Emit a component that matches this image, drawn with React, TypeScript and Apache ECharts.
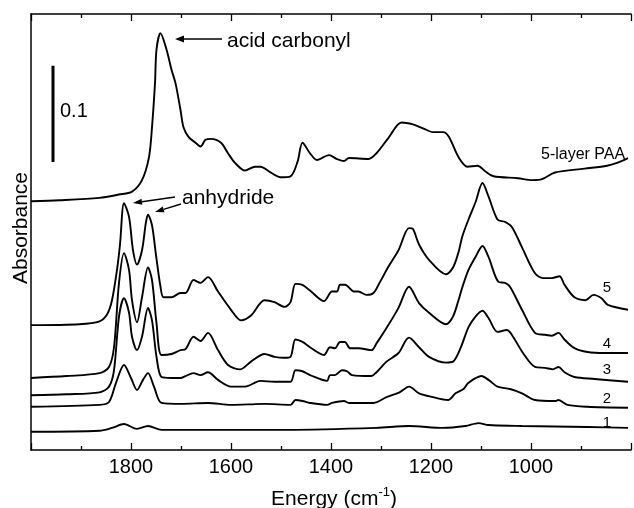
import React, { useEffect, useRef } from "react";
import * as echarts from "echarts";

// Energy (cm-1), absorbance (offset as plotted)
const paa: [number, number][] = [
  [2000, 0.259], [1943, 0.26], [1863, 0.2625], [1824, 0.266], [1798, 0.269], [1778, 0.281],
  [1764, 0.305], [1758, 0.336], [1752, 0.382], [1749, 0.417], [1741, 0.434], [1729, 0.417],
  [1719, 0.396], [1711, 0.382], [1701, 0.354], [1695, 0.336], [1685, 0.326], [1671, 0.32],
  [1661, 0.316], [1651, 0.323], [1640, 0.324], [1620, 0.32], [1606, 0.309], [1592, 0.299],
  [1572, 0.291], [1552, 0.295], [1541, 0.295], [1521, 0.289], [1501, 0.284], [1481, 0.285],
  [1467, 0.3], [1457, 0.32], [1442, 0.309], [1428, 0.302], [1404, 0.307], [1388, 0.303],
  [1374, 0.301], [1364, 0.304], [1325, 0.303], [1309, 0.309], [1285, 0.325], [1259, 0.341],
  [1236, 0.339], [1216, 0.335], [1196, 0.331], [1176, 0.331], [1164, 0.326], [1145, 0.305],
  [1127, 0.295], [1107, 0.296], [1091, 0.29], [1075, 0.285], [1026, 0.283], [998, 0.281],
  [978, 0.282], [952, 0.289], [893, 0.293], [848, 0.296], [828, 0.299], [806, 0.304],
];

const layer5: [number, number][] = [
  [2000, 0.13], [1903, 0.131], [1863, 0.134], [1848, 0.141], [1838, 0.156], [1828, 0.1875],
  [1822, 0.214], [1814, 0.257], [1804, 0.243], [1796, 0.208], [1788, 0.193], [1778, 0.208],
  [1770, 0.2375], [1766, 0.245], [1758, 0.234], [1750, 0.203], [1741, 0.17], [1735, 0.159],
  [1719, 0.159], [1701, 0.1635], [1691, 0.1635], [1675, 0.177], [1661, 0.174], [1646, 0.18],
  [1626, 0.165], [1600, 0.146], [1580, 0.135], [1560, 0.14], [1533, 0.156], [1513, 0.154],
  [1493, 0.149], [1481, 0.154], [1471, 0.173], [1457, 0.172], [1442, 0.166], [1414, 0.155],
  [1398, 0.165], [1388, 0.165], [1382, 0.172], [1372, 0.172], [1354, 0.165], [1345, 0.165],
  [1329, 0.1615], [1315, 0.1635], [1303, 0.174], [1285, 0.191], [1265, 0.208], [1244, 0.231],
  [1236, 0.23], [1224, 0.214], [1204, 0.198], [1170, 0.183], [1156, 0.19], [1145, 0.206],
  [1137, 0.223], [1125, 0.24], [1111, 0.258], [1097, 0.278], [1085, 0.264], [1067, 0.24],
  [1052, 0.2375], [1038, 0.232], [1018, 0.211], [992, 0.184], [976, 0.179], [958, 0.179],
  [943, 0.181], [933, 0.172], [913, 0.159], [891, 0.156], [875, 0.1615], [859, 0.158],
  [846, 0.151], [806, 0.146],
];

const layer4: [number, number][] = [
  [2000, 0.075], [1929, 0.077], [1863, 0.08], [1844, 0.0865], [1834, 0.107], [1824, 0.174],
  [1814, 0.205], [1804, 0.1875], [1798, 0.156], [1788, 0.133], [1778, 0.159], [1766, 0.19],
  [1758, 0.177], [1749, 0.132], [1739, 0.099], [1719, 0.1], [1701, 0.104], [1691, 0.105],
  [1675, 0.118], [1661, 0.1135], [1646, 0.122], [1626, 0.104], [1606, 0.0885], [1582, 0.084],
  [1560, 0.092], [1533, 0.1], [1513, 0.097], [1493, 0.096], [1481, 0.097], [1471, 0.115],
  [1457, 0.1125], [1442, 0.107], [1414, 0.099], [1402, 0.107], [1392, 0.106], [1382, 0.1125],
  [1372, 0.1125], [1362, 0.106], [1345, 0.106], [1319, 0.104], [1309, 0.111], [1289, 0.127],
  [1265, 0.148], [1244, 0.17], [1224, 0.153], [1204, 0.143], [1170, 0.131], [1156, 0.139],
  [1145, 0.156], [1137, 0.17], [1125, 0.1875], [1111, 0.201], [1097, 0.2125], [1085, 0.201],
  [1065, 0.175], [1052, 0.174], [1042, 0.17], [1018, 0.146], [992, 0.122], [972, 0.12],
  [958, 0.119], [945, 0.122], [933, 0.115], [913, 0.106], [887, 0.102], [853, 0.101],
  [806, 0.101],
];

const layer3: [number, number][] = [
  [2000, 0.057], [1929, 0.058], [1863, 0.06], [1844, 0.066], [1834, 0.083], [1824, 0.139],
  [1814, 0.158], [1804, 0.143], [1798, 0.118], [1788, 0.104], [1778, 0.118], [1766, 0.148],
  [1758, 0.135], [1749, 0.097], [1739, 0.076], [1719, 0.075], [1701, 0.075], [1691, 0.077],
  [1675, 0.08], [1661, 0.078], [1646, 0.081], [1626, 0.073], [1600, 0.066], [1572, 0.066],
  [1541, 0.072], [1513, 0.071], [1481, 0.071], [1471, 0.083], [1457, 0.082], [1442, 0.078],
  [1408, 0.072], [1402, 0.078], [1392, 0.078], [1378, 0.083], [1368, 0.082], [1358, 0.078],
  [1319, 0.077], [1309, 0.081], [1289, 0.092], [1265, 0.101], [1244, 0.117], [1224, 0.107],
  [1204, 0.097], [1170, 0.091], [1156, 0.092], [1141, 0.106], [1125, 0.128], [1111, 0.139],
  [1097, 0.145], [1085, 0.1375], [1067, 0.123], [1048, 0.125], [1036, 0.118], [1016, 0.101],
  [992, 0.0865], [972, 0.0855], [956, 0.084], [945, 0.0865], [933, 0.081], [913, 0.076],
  [873, 0.074], [806, 0.071],
];

const layer2: [number, number][] = [
  [2000, 0.045], [1863, 0.047], [1844, 0.05], [1830, 0.07], [1814, 0.0885], [1800, 0.075],
  [1788, 0.0625], [1776, 0.073], [1766, 0.08], [1754, 0.066], [1739, 0.049], [1699, 0.048],
  [1646, 0.049], [1600, 0.047], [1533, 0.048], [1481, 0.047], [1471, 0.052], [1457, 0.051],
  [1442, 0.049], [1408, 0.047], [1398, 0.049], [1374, 0.051], [1364, 0.049], [1315, 0.049],
  [1289, 0.055], [1263, 0.06], [1244, 0.066], [1224, 0.059], [1196, 0.055], [1166, 0.052],
  [1151, 0.059], [1135, 0.0635], [1125, 0.07], [1099, 0.077], [1085, 0.073], [1067, 0.066],
  [1042, 0.0635], [1018, 0.059], [992, 0.052], [952, 0.051], [945, 0.052], [927, 0.047],
  [887, 0.045], [806, 0.044],
];

const layer1: [number, number][] = [
  [2000, 0.019], [1863, 0.02], [1838, 0.023], [1814, 0.027], [1788, 0.022], [1766, 0.025],
  [1739, 0.021], [1487, 0.021], [1309, 0.023], [1244, 0.025], [1176, 0.023], [1131, 0.025],
  [1105, 0.028], [1085, 0.026], [1018, 0.025], [887, 0.024], [806, 0.023],
];

const spectra = [paa, layer5, layer4, layer3, layer2, layer1];
const scaleBar: [number, number][] = [[1956, 0.3], [1956, 0.4]];
const layerLabels = ["5", "4", "3", "2", "1"];
const layerLabelY = [286, 342, 368, 397, 421];

const FONT = '"Liberation Sans", Arial, Helvetica, sans-serif';

export default function App() {
  const ref = useRef<HTMLDivElement>(null);
  useEffect(() => {
    if (!ref.current) return;
    const chart = echarts.init(ref.current, undefined, { renderer: "svg" });
    const axisCommon = {
      type: "value" as const,
      min: 800,
      max: 2000,
      interval: 200,
      inverse: true,
      splitLine: { show: false },
      axisLine: { show: true, onZero: false, lineStyle: { color: "#000", width: 1.5 } },
      axisTick: { show: true, inside: true, length: 7, lineStyle: { color: "#000", width: 1.3 } },
      minorTick: { show: true, splitNumber: 2, length: 4, lineStyle: { color: "#000", width: 1.3 } },
    };
    const txt = (text: string, x: number, y: number, size: number, align = "left", extra: any = {}) => ({
      type: "text",
      x,
      y,
      silent: true,
      ...extra,
      style: { text, fontSize: size, fontFamily: FONT, fill: "#000", align, verticalAlign: "middle" },
    });
    const arrow = (tail: number[], base: number[], head: number[][]) => [
      { type: "line", silent: true, shape: { x1: tail[0], y1: tail[1], x2: base[0], y2: base[1] }, style: { stroke: "#000", lineWidth: 1.4 } },
      { type: "polygon", silent: true, shape: { points: head }, style: { fill: "#000" } },
    ];
    chart.setOption({
      animation: false,
      grid: { left: 31, top: 14, width: 606, height: 436 },
      xAxis: [
        {
          ...axisCommon,
          position: "bottom",
          axisLabel: {
            margin: 6,
            fontSize: 20,
            fontFamily: FONT,
            color: "#000",
            formatter: (v: number) => (v === 800 || v === 2000 ? "" : String(v)),
          },
        },
        { ...axisCommon, position: "top", axisLabel: { show: false } },
      ],
      yAxis: {
        type: "value",
        min: 0,
        max: 0.454,
        splitLine: { show: false },
        axisLine: { show: true, lineStyle: { color: "#000", width: 1.5 } },
        axisTick: { show: false },
        axisLabel: { show: false },
      },
      series: [
        ...spectra.map((d) => ({
          type: "line",
          data: d,
          showSymbol: false,
          smooth: 0.3,
          silent: true,
          lineStyle: { color: "#000", width: 1.9 },
        })),
        {
          type: "line",
          data: scaleBar,
          showSymbol: false,
          silent: true,
          lineStyle: { color: "#000", width: 3 },
        },
      ],
      graphic: [
        txt("Absorbance", 19, 228, 21, "center", { rotation: Math.PI / 2 }),
        {
          type: "text",
          x: 334,
          y: 497,
          silent: true,
          style: {
            text: "{a|Energy (cm}{s|-1}{a|)}",
            align: "center",
            verticalAlign: "middle",
            rich: {
              a: { fontSize: 21, fontFamily: FONT, fill: "#000", lineHeight: 24 },
              s: { fontSize: 13, fontFamily: FONT, fill: "#000", verticalAlign: "top", lineHeight: 24 },
            },
          },
        },
        txt("0.1", 60, 110, 20),
        txt("acid carbonyl", 227, 39, 21),
        txt("anhydride", 182, 196, 21),
        txt("5-layer PAA", 541, 153, 16),
        ...layerLabels.map((l, i) => txt(l, 607, layerLabelY[i], 15, "center")),
        ...arrow([222, 39], [183, 39], [[175, 39], [184, 35.5], [184, 42.5]]),
        ...arrow([175, 197], [142, 201.7], [[133, 203], [142.3, 204.7], [141.5, 198.7]]),
        ...arrow([181, 204], [163.6, 209.4], [[155, 212], [164.5, 212.2], [162.7, 206.5]]),
      ],
    });
    return () => chart.dispose();
  }, []);
  return <div ref={ref} style={{ position: "fixed", left: 0, top: 0, width: 634, height: 508 }} />;
}
